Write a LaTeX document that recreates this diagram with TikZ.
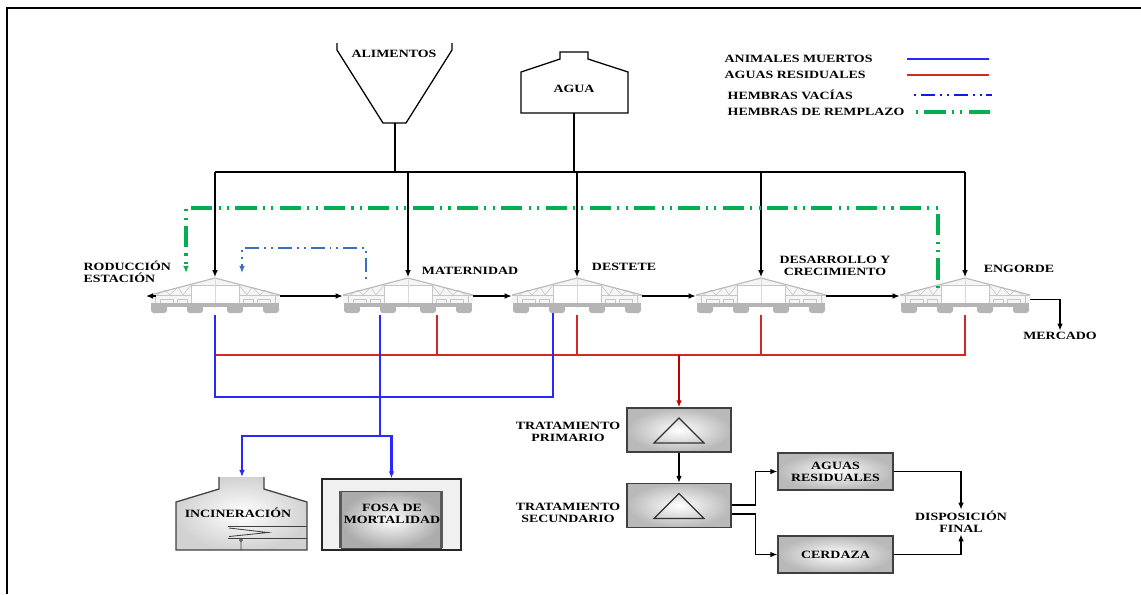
\documentclass[tikz,border=0pt]{standalone}
\usepackage{fontspec}
\setmainfont{Liberation Serif}
\newfontfamily\lblfont[FakeStretch=1.25]{Liberation Serif}
\usetikzlibrary{arrows.meta}

\definecolor{muertoblue}{RGB}{40,40,255}
\definecolor{residred}{RGB}{210,40,40}
\definecolor{residdark}{RGB}{192,0,0}
\definecolor{vaciablue}{RGB}{60,110,190}
\definecolor{vacialeg}{RGB}{10,30,230}
\definecolor{remgreen}{RGB}{0,176,80}

\begin{document}
\begin{tikzpicture}[x=0.025cm, y=-0.025cm, >={Latex[length=5pt,width=4pt]}]
\tikzstyle{lbl}=[font=\lblfont\bfseries\fontsize{7.9}{8.4}\selectfont, align=center, inner sep=1pt]
\tikzstyle{barn}=[minimum width=3.25cm, minimum height=0.925cm, inner sep=0pt, path picture={
  \begin{scope}[shift={(path picture bounding box.center)}]
  \fill[gray!8] (-65,-1) -- (0,-18) -- (65,-1) -- (65,7) -- (-65,7) -- cycle;
  \draw[gray!45, line width=0.4pt] (-65,-1) -- (65,-1);
  \draw[gray!45, line width=0.4pt] (-58,-1) -- (-50,-6) -- (-45,-1) -- (-37,-9) -- (-32,-1) -- (-24,-11);
  \draw[gray!45, line width=0.4pt] (58,-1) -- (50,-6) -- (45,-1) -- (37,-9) -- (32,-1) -- (24,-11);
  \draw[gray!55, line width=0.8pt] (-65,-1) -- (0,-18) -- (65,-1);
  \fill[white] (-24,-11) rectangle (24,7);
  \draw[gray!45, line width=0.4pt] (-24,-11) rectangle (24,7);
  \draw[gray!30, line width=0.4pt] (0,-18) -- (0,12);
  \draw[gray!45, line width=0.4pt] (-60,-1) -- (-60,7) (60,-1) -- (60,7);
  \draw[gray!45, line width=0.4pt] (-55,3) rectangle (-42,7) (-38,3) rectangle (-28,7) (28,3) rectangle (38,7) (42,3) rectangle (55,7);
  \fill[gray!58] (-64,7) rectangle (64,11);
  \foreach \bx in {-56,-20,20,56} \fill[gray!58, rounded corners=2pt] (\bx-8,9) rectangle (\bx+8,17);
  \end{scope}}]
\tikzstyle{tank}=[draw=black!75, line width=0.9pt, minimum width=2.6cm, minimum height=1.1cm, inner color=white, outer color=gray!55,
  path picture={\draw[black!80, line width=0.8pt, shift={(path picture bounding box.center)}] (-25,13) -- (0,-12) -- (25,13) -- cycle;}]
\tikzstyle{grbox}=[lbl, draw=black!75, line width=0.9pt, minimum width=2.875cm, minimum height=0.925cm, inner color=white, outer color=gray!55]
\tikzstyle{fosapit}=[draw=gray!60!black, line width=0.6pt, minimum width=2.5cm, minimum height=1.425cm, inner color=white, outer color=gray!65]
\tikzstyle{feed}=[draw=black, line width=1.1pt, ->]
\tikzstyle{flow}=[draw=black, line width=0.9pt, ->]
\tikzstyle{muerto}=[draw=muertoblue, line width=1.5pt]
\tikzstyle{resid}=[draw=residred, line width=1pt]
\tikzstyle{residdrop}=[draw=residdark, line width=2pt, ->]
\tikzstyle{vacia}=[draw=vaciablue, line width=1.8pt, ->, dash pattern=on 1.4pt off 3.5pt on 10pt off 3.5pt on 1.4pt off 3.5pt]
\tikzstyle{remplazo}=[draw=remgreen, line width=2.4pt, ->, dash pattern=on 1.5pt off 4.5pt on 15pt off 4.5pt on 1.5pt off 4.5pt]
\useasboundingbox (0,0) rectangle (1141,594);
% marco
\draw[line width=1.4pt] (7,594) -- (7,8) -- (1141,8);

% alimentos y agua
\draw[line width=0.9pt] (337,43) -- (337,50) -- (383,123) -- (406,123) -- (452,50) -- (452,43);
\node[lbl] (alim) at (394,54) {ALIMENTOS};
\coordinate (hopbot) at (395,123);
\draw[line width=0.9pt] (521,113) -- (521,72) -- (560,59) -- (560,52) -- (588,52) -- (588,59) -- (628,72) -- (628,113) -- cycle;
\node[lbl] (agua) at (574,89) {AGUA};
\coordinate (aguabot) at (574,113);

% leyenda
\node[lbl, anchor=west] (leg1) at (723,59) {ANIMALES MUERTOS};
\node[lbl, anchor=west] (leg2) at (723,75) {AGUAS RESIDUALES};
\node[lbl, anchor=west] (leg3) at (726,95) {HEMBRAS VACÍAS};
\node[lbl, anchor=west] (leg4) at (726,112) {HEMBRAS DE REMPLAZO};
\draw[muerto, line width=1.2pt] (907,59) -- (989,59);
\draw[resid, line width=1.2pt] (907,75) -- (989,75);
\draw[vacia, draw=vacialeg, -] (914,95) -- (992,95);
\draw[remplazo, -] (916,112) -- (992,112);

% galpones
\node[barn] (gest) at (215,296) {};
\node[barn] (mat) at (408,296) {};
\node[barn] (dest) at (577,296) {};
\node[barn] (des) at (761,296) {};
\node[barn] (eng) at (965,296) {};
\node[lbl, anchor=west, align=left] (lblgest) at (82,272) {RODUCCIÓN\\ESTACIÓN};
\node[lbl] (lblmat) at (470,271) {MATERNIDAD};
\node[lbl] (lbldest) at (624,267) {DESTETE};
\node[lbl] (lbldes) at (835,266) {DESARROLLO Y\\CRECIMIENTO};
\node[lbl] (lbleng) at (1019,269) {ENGORDE};
\node[lbl] (merc) at (1060,336) {MERCADO};

% alimento y agua a los galpones
\coordinate (busL) at (215,172);
\coordinate (busR) at (965,172);
\draw[line width=1.6pt] (hopbot) -- (hopbot |- busL);
\draw[line width=1.2pt] (aguabot) -- (aguabot |- busL);
\draw[line width=1.4pt] (busL) -- (busR);
\draw[feed] (gest |- busL) -- (gest.north);
\draw[feed] (mat |- busL) -- (mat.north);
\draw[feed] (dest |- busL) -- (dest.north);
\draw[feed] (des |- busL) -- (des.north);
\draw[feed] (eng |- busL) -- (eng.north);

% flujo de animales
\coordinate (gestout) at (146,296);
\draw[flow] ([xshift=0.15cm]gest.west) -- (gestout);
\draw[flow] (gest.east) -- (mat.west);
\draw[flow] (mat.east) -- (dest.west);
\draw[flow] (dest.east) -- (des.west);
\draw[flow] (des.east) -- (eng.west);
\draw[flow] ([yshift=-0.08cm]eng.east) -| (merc.north);

% hembras
\coordinate (remA) at (938,288);
\coordinate (remtop) at (560,208);
\coordinate (remB) at (186,273);
\draw[remplazo] (remA) |- (remtop) -| (remB);
\coordinate (vacA) at (366,279);
\coordinate (vactop) at (300,248);
\coordinate (vacB) at (242,273);
\draw[vacia] (vacA) |- (vactop) -| (vacB);

% tratamiento
\node[tank] (prim) at (679,430) {};
\node[tank] (sec) at (679,505.5) {};
\node[lbl] (primlbl) at (568,432) {TRATAMIENTO\\PRIMARIO};
\node[lbl] (seclbl) at (568,513) {TRATAMIENTO\\SECUNDARIO};
\node[grbox] (agres) at (835.5,471.5) {AGUAS\\RESIDUALES};
\node[grbox] (cerd) at (835.5,554.5) {CERDAZA};
\node[lbl] (disp) at (961,522) {DISPOSICIÓN\\FINAL};

% aguas residuales
\coordinate (rl) at (215,355);
\coordinate (matr) at (437,315);
\draw[resid] (gest.south) |- (eng.south |- rl) -- (eng.south);
\draw[resid] (matr) -- (matr |- rl);
\draw[resid] (dest.south) -- (dest.south |- rl);
\draw[resid] (des.south) -- (des.south |- rl);
\draw[residdrop] (prim |- rl) -- (prim.north);
\draw[flow] (prim.south) -- (sec.north);
\draw[flow] ([yshift=0.0125cm]sec.east) -- ++(24,0) |- (agres.west);
\draw[flow] ([yshift=-0.2125cm]sec.east) -- ++(24,0) |- (cerd.west);
\draw[flow] (agres.east) -| (disp.north);
\draw[flow] (cerd.east) -| (disp.south);

% incineracion y fosa
\coordinate (incintop) at (242,477);
\shade[inner color=white, outer color=gray!35] (219,477) -- (219,489) -- (176,502) -- (176,550) -- (307,550) -- (307,502) -- (264,489) -- (264,477) -- cycle;
\draw[black!75, line width=0.9pt] (219,477) -- (219,489) -- (176,502) -- (176,550) -- (307,550) -- (307,502) -- (264,489) -- (264,477);
\node[lbl] (incin) at (238,513) {INCINERACIÓN};
\draw[black!75, line width=0.6pt] (228,526) -- (307,526) (228,538) -- (307,538);
\draw[black!75, line width=0.6pt] (229,528) -- (268,532.5) -- (229,536.5);
\draw[black!75, line width=0.6pt] (241,540) circle (1pt) (241,541.5) -- (241,550);
\node[draw=black!85, line width=0.9pt, fill=gray!12, minimum width=3.475cm, minimum height=1.775cm] (fosa) at (391.5,514.5) {};
\node[fosapit] (fosain) at (391,519.5) {};
\draw[black!65, line width=1.6pt] (fosain.north west) -- (fosain.south west) (fosain.north east) -- (fosain.south east);
\node[lbl] (fosatxt) at (392,514) {FOSA DE\\MORTALIDAD};

% animales muertos
\coordinate (bl) at (215,397);
\coordinate (destb) at (553,313);
\coordinate (matb) at (380,315);
\coordinate (bj) at (380,436);
\draw[muerto] (gest.south) |- (destb |- bl) -- (destb);
\draw[muerto] (matb) -- (bj);
\draw[muerto, ->] (bj) -| (incintop);
\draw[muerto, ->] (bj) -| (fosa.north);
\end{tikzpicture}
\end{document}
